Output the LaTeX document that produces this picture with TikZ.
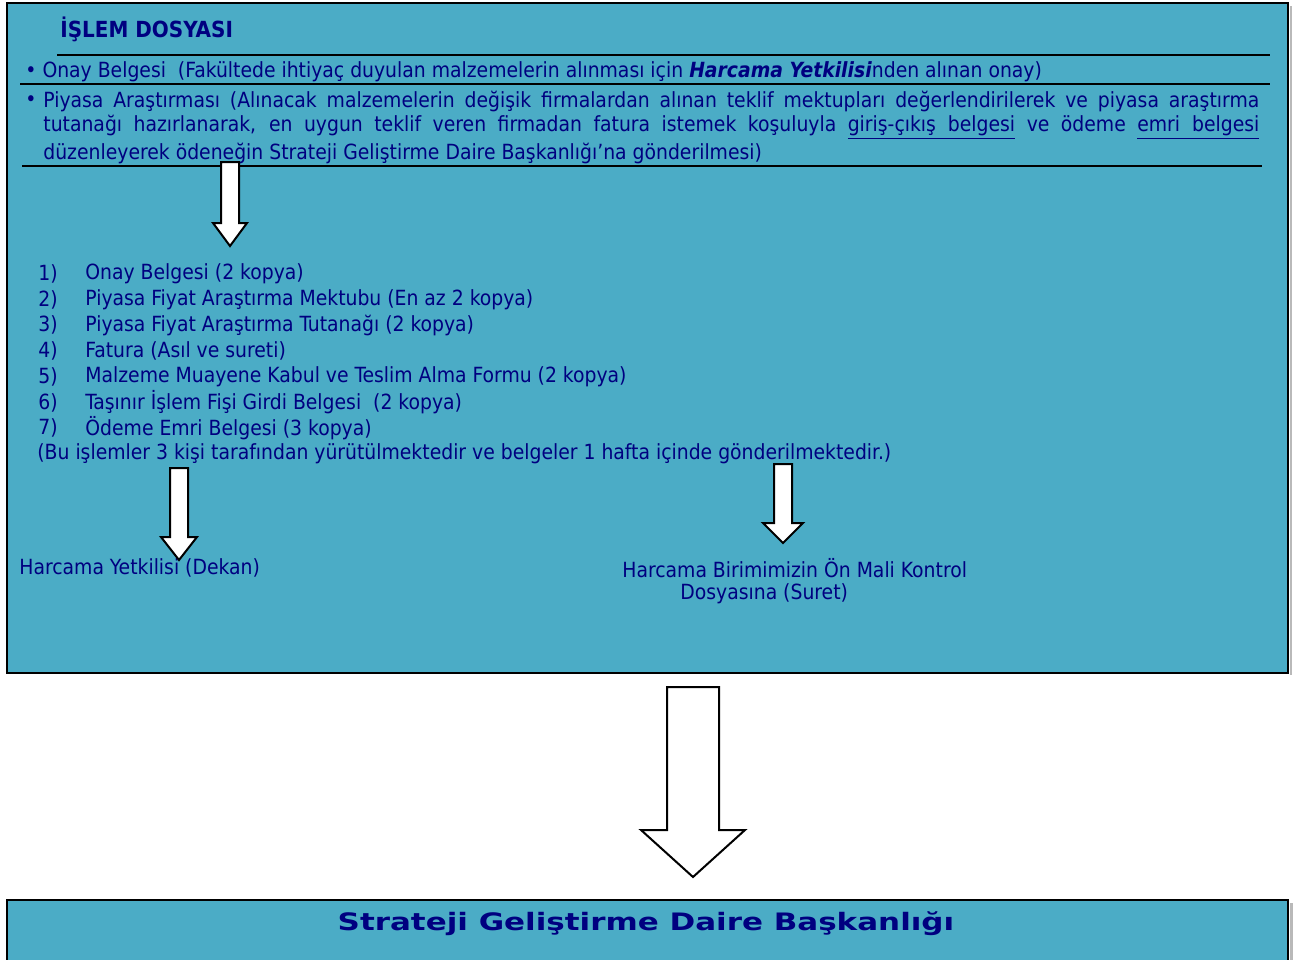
\documentclass[tikz,border=0pt]{standalone}
\usepackage{fontspec}
\setmainfont{DejaVu Sans Condensed}
\newfontfamily\titlefont{DejaVu Sans}
\definecolor{aqua}{RGB}{75,172,198}
\definecolor{navy}{RGB}{0,0,128}
\tikzset{
  txt/.style={anchor=west, inner sep=0pt, text=navy, font=\fontsize{10.45}{12}\selectfont},
  rule/.style={line width=1pt, black},
  blockarrow/.style={draw=black, fill=white, line width=1pt, line join=miter},
  panel/.style={draw=black, fill=aqua, line width=1pt}
}
\newcommand{\bul}{{\fontsize{10.5}{8}\selectfont•}}
\begin{document}
\begin{tikzpicture}[x=0.5pt,y=-0.5pt]
\useasboundingbox (0,0) rectangle (1296,959);
% panels
\fill[gray!55] (1290,6) rectangle (1291.5,675);
\draw[panel] (7,3) rectangle (1288,673);
\fill[gray!55] (1289.5,903) rectangle (1293,965);
\draw[panel, line width=1.3pt] (7,900) rectangle (1288,966);
% rules
\draw[rule] (57,55) -- (1270,55);
\draw[rule] (20,84) -- (1270,84);
\draw[rule] (22,166) -- (1262,166);
% title
\node[txt, font=\fontsize{11.1}{12}\selectfont\bfseries] (title) at (60,29) {İŞLEM DOSYASI};
% onay
\node[txt] (onay) at (25,72) {\bul{} Onay Belgesi\ \ (Fakültede ihtiyaç duyulan malzemelerin alınması için \textbf{\textit{Harcama Yetkilisi}}nden alınan onay)};
% piyasa
\node[txt] (bul) at (25,101) {\bul};
\node[txt] (p1) at (43,101) {\makebox[608pt][s]{Piyasa Araştırması (Alınacak malzemelerin değişik firmalardan alınan teklif mektupları değerlendirilerek ve piyasa araştırma}};
\node[txt] (p2) at (43,127) {\makebox[608pt][s]{tutanağı hazırlanarak, en uygun teklif veren firmadan fatura istemek koşuluyla \underline{giriş-çıkış\ \ belgesi} ve ödeme \underline{emri\ \ belgesi}}};
\node[txt] (p3) at (43,153) {düzenleyerek ödeneğin Strateji Geliştirme Daire Başkanlığı’na gönderilmesi)};
% list
\foreach \n/\t [count=\i from 0] in {1/Onay Belgesi (2 kopya),
  2/Piyasa Fiyat Araştırma Mektubu (En az 2 kopya),
  3/Piyasa Fiyat Araştırma Tutanağı (2 kopya),
  4/Fatura (Asıl ve sureti),
  5/Malzeme Muayene Kabul ve Teslim Alma Formu (2 kopya),
  6/Taşınır İşlem Fişi Girdi Belgesi\ \ (2 kopya),
  7/Ödeme Emri Belgesi (3 kopya)}{
  \node[txt] (num\n) at (38,274+25.7*\i) {\n)};
  \node[txt] (item\n) at (85,274+25.7*\i) {\t};
}
\node[txt] (note) at (37,454) {(Bu işlemler 3 kişi tarafından yürütülmektedir ve belgeler 1 hafta içinde gönderilmektedir.)};
\node[txt] (dekan) at (19,568) {Harcama Yetkilisi (Dekan)};
\node[txt] (mali1) at (622,568) {Harcama Birimimizin Ön Mali Kontrol};
\node[txt] (mali2) at (680,594) {Dosyasına (Suret)};
% bottom title
\node[inner sep=0pt, text=navy] (sgdb) at (646,924) {\scalebox{1.29}[1]{\titlefont\fontsize{12}{13}\selectfont\bfseries Strateji Geliştirme Daire Başkanlığı}};
% arrows
\draw[blockarrow] (221,162) -- (239,162) -- (239,223) -- (247,223) -- (230,246) -- (213,223) -- (221,223) -- cycle;
\draw[blockarrow] (170,468) -- (188,468) -- (188,537) -- (197,537) -- (179,560) -- (161,537) -- (170,537) -- cycle;
\draw[blockarrow] (774,464) -- (792,464) -- (792,523) -- (803,523) -- (783,543) -- (763,523) -- (774,523) -- cycle;
\draw[blockarrow] (667,687) -- (719,687) -- (719,830) -- (745,830) -- (693,877) -- (641,830) -- (667,830) -- cycle;
\end{tikzpicture}
\end{document}
